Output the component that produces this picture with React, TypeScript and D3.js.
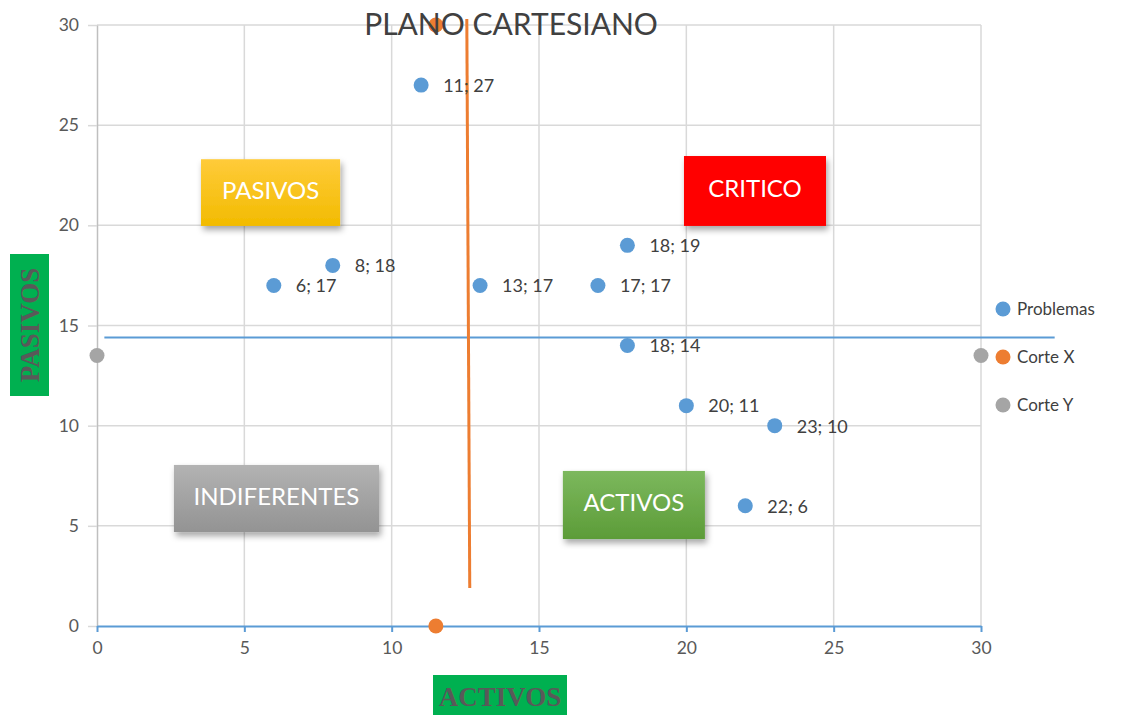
import React, { useEffect, useRef } from 'react';
import * as d3 from 'd3';

// Problemas series (activos = x, pasivos = y)
const problemasX = [11, 8, 6, 13, 17, 18, 18, 20, 23, 22];
const problemasY = [27, 18, 17, 17, 17, 19, 14, 11, 10, 6];

// cut points
const corteX = [[11.5, 30], [11.5, 0]];
const corteY = [[0, 13.5], [30, 13.5]];

// hand drawn separator lines (data units)
const lineaVertical = [[12.55, 30.3], [12.65, 1.9]];
const lineaHorizontal = [[0.25, 14.4], [32.5, 14.4]];

const ticks = [0, 5, 10, 15, 20, 25, 30];

const cuadrantes = [
  { name: 'PASIVOS', x0: 3.53, x1: 8.25, y0: 23.3, y1: 19.97, top: '#ffcb3a', bottom: '#f2bb00' },
  { name: 'CRITICO', x0: 19.92, x1: 24.74, y0: 23.46, y1: 19.97, top: '#ff0000', bottom: '#ff0000' },
  { name: 'INDIFERENTES', x0: 2.61, x1: 9.57, y0: 8.04, y1: 4.69, top: '#b3b3b3', bottom: '#939393' },
  { name: 'ACTIVOS', x0: 15.81, x1: 20.63, y0: 7.74, y1: 4.34, top: '#7cb85d', bottom: '#5c9c38' },
];

const legend = [
  { name: 'Problemas', color: '#5b9bd5' },
  { name: 'Corte X', color: '#ed7d31' },
  { name: 'Corte Y', color: '#a5a5a5' },
];

const W = 1121, H = 715;
const margin = { top: 25, right: 140, bottom: 89, left: 97 };
const FONT = 'Lato, "Open Sans", sans-serif';

const App = () => {
  const ref = useRef<SVGSVGElement>(null);

  useEffect(() => {
    const svg = d3.select(ref.current);
    svg.selectAll('*').remove();

    const x = d3.scaleLinear().domain([0, 30]).range([margin.left, W - margin.right]);
    const y = d3.scaleLinear().domain([0, 30]).range([H - margin.bottom, margin.top]);

    const defs = svg.append('defs');
    defs.append('filter').attr('id', 'sombra')
      .attr('x', '-20%').attr('y', '-20%').attr('width', '140%').attr('height', '150%')
      .append('feDropShadow')
      .attr('dx', 2).attr('dy', 4).attr('stdDeviation', 3)
      .attr('flood-color', '#000').attr('flood-opacity', 0.35);

    cuadrantes.forEach((c, i) => {
      const g = defs.append('linearGradient').attr('id', 'grad' + i)
        .attr('x1', 0).attr('y1', 0).attr('x2', 0).attr('y2', 1);
      g.append('stop').attr('offset', '0%').attr('stop-color', c.top);
      g.append('stop').attr('offset', '100%').attr('stop-color', c.bottom);
    });

    // grid
    svg.append('g')
      .selectAll('line.gx')
      .data(ticks.slice(1))
      .join('line')
      .attr('x1', d => x(d)).attr('x2', d => x(d))
      .attr('y1', y(0)).attr('y2', y(30))
      .attr('stroke', '#d9d9d9').attr('stroke-width', 1.5);
    svg.append('g')
      .selectAll('line.gy')
      .data(ticks.slice(1))
      .join('line')
      .attr('x1', x(0)).attr('x2', x(30))
      .attr('y1', d => y(d)).attr('y2', d => y(d))
      .attr('stroke', '#d9d9d9').attr('stroke-width', 1.5);

    // y axis
    const yAxis = svg.append('g')
      .attr('transform', `translate(${x(0)},0)`)
      .call(d3.axisLeft(y).tickValues(ticks).tickSize(9).tickPadding(9).tickSizeOuter(0));
    yAxis.select('.domain').attr('stroke', '#bfbfbf').attr('stroke-width', 1.5);
    yAxis.selectAll('.tick line').attr('stroke', '#d9d9d9').attr('stroke-width', 1.5);
    yAxis.selectAll('.tick text')
      .attr('font-family', FONT).attr('font-size', 17.5).attr('fill', '#595959');

    // x axis
    const xAxis = svg.append('g')
      .attr('transform', `translate(0,${y(0)})`)
      .call(d3.axisBottom(x).tickValues(ticks).tickSize(6).tickPadding(10).tickSizeOuter(0));
    xAxis.select('.domain').attr('stroke', '#5b9bd5').attr('stroke-width', 2);
    xAxis.selectAll('.tick line').attr('stroke', '#5b9bd5').attr('stroke-width', 2);
    xAxis.selectAll('.tick text')
      .attr('font-family', FONT).attr('font-size', 17.5).attr('fill', '#595959');

    // quadrant boxes
    const box = svg.append('g').selectAll('g')
      .data(cuadrantes)
      .join('g');
    box.append('rect')
      .attr('x', d => x(d.x0)).attr('y', d => y(d.y0))
      .attr('width', d => x(d.x1) - x(d.x0)).attr('height', d => y(d.y1) - y(d.y0))
      .attr('fill', (d, i) => `url(#grad${i})`)
      .attr('filter', 'url(#sombra)');
    box.append('text')
      .attr('x', d => (x(d.x0) + x(d.x1)) / 2)
      .attr('y', d => (y(d.y0) + y(d.y1)) / 2 - 2)
      .attr('dy', '0.35em')
      .attr('text-anchor', 'middle')
      .attr('font-family', FONT).attr('font-size', 24)
      .attr('fill', '#fff')
      .text(d => d.name);

    // separator lines
    const line = d3.line<number[]>().x(d => x(d[0])).y(d => y(d[1]));
    svg.append('path').datum(lineaHorizontal).attr('d', line)
      .attr('stroke', '#5b9bd5').attr('stroke-width', 2).attr('fill', 'none');
    svg.append('path').datum(lineaVertical).attr('d', line)
      .attr('stroke', '#ed7d31').attr('stroke-width', 3).attr('fill', 'none');

    // cortes
    svg.append('g').selectAll('circle')
      .data(corteY)
      .join('circle')
      .attr('cx', d => x(d[0])).attr('cy', d => y(d[1])).attr('r', 7.5)
      .attr('fill', '#a5a5a5');
    svg.append('g').selectAll('circle')
      .data(corteX)
      .join('circle')
      .attr('cx', d => x(d[0])).attr('cy', d => y(d[1])).attr('r', 7.5)
      .attr('fill', '#ed7d31');

    // problemas
    const idx = d3.range(problemasX.length);
    svg.append('g').selectAll('circle')
      .data(idx)
      .join('circle')
      .attr('cx', i => x(problemasX[i])).attr('cy', i => y(problemasY[i])).attr('r', 7.5)
      .attr('fill', '#5b9bd5');
    svg.append('g').selectAll('text')
      .data(idx)
      .join('text')
      .attr('x', i => x(problemasX[i]) + 22).attr('y', i => y(problemasY[i]))
      .attr('dy', '0.38em')
      .attr('font-family', FONT).attr('font-size', 18).attr('fill', '#404040')
      .text(i => `${problemasX[i]}; ${problemasY[i]}`);

    // title
    svg.append('text')
      .attr('x', 511).attr('y', 35)
      .attr('text-anchor', 'middle')
      .attr('font-family', FONT).attr('font-size', 30).attr('fill', '#404040')
      .text('PLANO CARTESIANO');

    // legend
    const lg = svg.append('g').selectAll('g')
      .data(legend)
      .join('g')
      .attr('transform', (d, i) => `translate(1003,${309 + i * 48})`);
    lg.append('circle').attr('r', 7.5).attr('fill', d => d.color);
    lg.append('text')
      .attr('x', 14).attr('dy', '0.36em')
      .attr('font-family', FONT).attr('font-size', 17).attr('fill', '#404040')
      .text(d => d.name);

    // axis titles
    svg.append('rect').attr('x', 10).attr('y', 254).attr('width', 39).attr('height', 142).attr('fill', '#00b050');
    svg.append('text')
      .attr('transform', 'translate(30,325) rotate(-90)')
      .attr('text-anchor', 'middle').attr('dy', '0.35em')
      .attr('font-family', '"Liberation Serif", serif').attr('font-weight', 'bold')
      .attr('font-size', 27).attr('fill', '#595959')
      .text('PASIVOS');
    svg.append('rect').attr('x', 433).attr('y', 675).attr('width', 134).attr('height', 45).attr('fill', '#00b050');
    svg.append('text')
      .attr('x', 500).attr('y', 706)
      .attr('text-anchor', 'middle')
      .attr('font-family', '"Liberation Serif", serif').attr('font-weight', 'bold')
      .attr('font-size', 27).attr('fill', '#595959')
      .text('ACTIVOS');
  }, []);

  return (
    <svg ref={ref} width={W} height={H}
      style={{ position: 'absolute', left: 0, top: 0, background: '#fff' }} />
  );
};

export default App;
